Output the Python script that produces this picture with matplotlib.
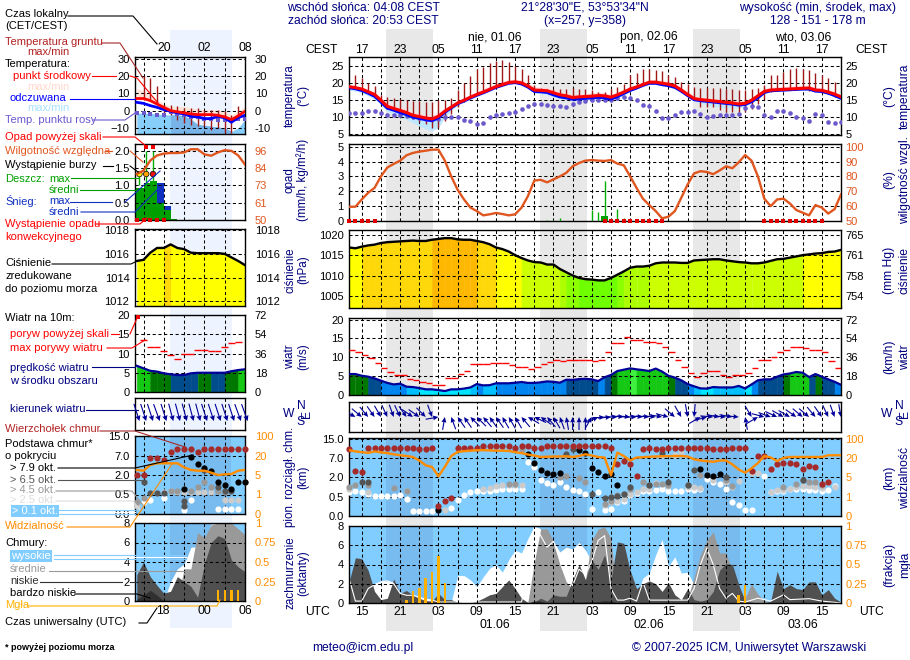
import numpy as np
import matplotlib
matplotlib.use('Agg')
import matplotlib.pyplot as plt
from matplotlib.lines import Line2D
from matplotlib.patches import Rectangle

plt.rcParams['font.family'] = ['Liberation Sans', 'DejaVu Sans']

W, H = 910, 660
NAVY = '#000080'
SKY = '#82CDFF'
RH_COL = '#E0561F'
ORANGE = '#FF8C00'
BROWN = '#A52A2A'
DEW = '#6A5ACD'
GRID = (0, (3, 2.5))

# main panel: hourly values, hours counted from 00 UTC 31.05
hours = np.arange(13, 91)
temp_mid = [19.0,18.7,18.3,17.5,16.7,15.0,13.2,12.6,12.0,11.4,
            10.6,10.2,9.8,9.5,10.3,11.8,13.0,14.2,15.0,15.9,
            16.7,17.4,18.2,19.0,19.6,20.2,20.4,20.1,19.2,18.0,
            17.9,17.8,17.2,16.6,16.3,15.8,16.0,16.1,16.2,16.4,
            16.3,15.9,16.6,17.4,18.3,18.9,19.6,20.3,20.3,20.0,
            19.7,19.2,18.0,16.7,15.5,15.2,15.0,14.8,14.6,14.4,
            14.2,13.9,14.1,15.0,16.3,17.6,18.0,18.1,18.2,18.3,
            18.4,18.5,18.6,18.0,17.9,17.4,16.8,16.0]
temp_feel = [18.7,18.4,17.9,17.1,16.2,14.5,12.7,12.1,11.4,10.8,
             10.1,9.7,9.3,9.0,9.9,11.5,12.8,14.0,14.8,15.7,
             16.5,17.2,18.0,18.8,19.4,20.0,20.2,19.8,18.9,17.6,
             17.5,17.3,16.6,16.0,15.7,15.3,15.4,15.6,15.7,15.9,
             15.7,15.4,16.1,17.0,17.9,18.6,19.4,20.0,20.0,19.6,
             19.3,18.8,17.7,16.4,15.2,14.9,14.7,14.5,14.3,14.1,
             13.9,13.6,13.8,14.6,15.8,17.3,17.8,17.9,18.0,18.1,
             18.2,18.3,18.3,17.7,17.6,17.1,16.4,15.6]
temp_low = [18.0,17.7,17.2,16.3,15.3,13.7,11.7,11.0,10.0,9.3,
            8.4,7.4,6.6,6.0,7.0,10.0,12.0,13.6,14.4,15.3,
            16.1,16.9,17.7,18.5,19.2,19.8,20.0,19.5,18.5,17.1,
            16.9,16.7,16.0,15.5,15.2,14.8,14.8,15.0,15.2,15.4,
            15.3,14.9,15.6,16.6,17.6,18.3,19.1,19.7,19.7,19.3,
            18.9,18.4,17.2,16.0,14.7,14.2,13.7,13.2,13.0,12.8,
            12.8,12.8,13.2,14.2,15.4,17.0,17.5,17.6,17.7,17.8,
            17.9,18.0,18.0,17.4,17.2,16.7,16.0,15.0]
temp_high = [19.4,19.2,18.8,18.1,17.3,15.8,14.2,13.5,12.9,12.4,
             11.6,11.2,10.7,10.5,11.5,12.5,13.7,14.9,15.8,16.7,
             17.5,18.3,19.2,19.9,20.6,21.1,21.2,20.9,20.0,18.9,
             18.9,18.7,18.1,17.5,17.2,16.8,16.9,17.0,17.1,17.4,
             17.2,16.7,17.4,18.2,19.1,19.7,20.4,21.0,21.1,20.8,
             20.5,20.0,18.8,17.5,16.3,16.0,15.8,15.6,15.4,15.2,
             15.0,14.8,15.0,15.8,17.1,18.5,18.9,19.0,19.1,19.2,
             19.3,19.4,19.4,18.8,18.6,18.2,17.5,16.5]
temp_dew = [11.3,11.3,11.3,11.8,11.8,11.3,10.8,10.8,10.6,10.3,
            10.1,9.8,9.6,9.4,9.6,10.1,10.1,10.1,9.3,8.9,
            7.9,8.4,10.1,10.8,11.0,11.2,11.5,12.3,13.2,13.9,
            14.0,13.6,13.3,13.2,13.1,13.8,14.5,14.8,15.2,15.2,
            15.2,15.2,15.7,16.0,15.7,15.0,13.6,13.4,11.8,9.9,
            9.9,10.6,11.5,11.6,11.9,11.1,10.1,10.4,10.6,10.6,
            10.6,11.1,12.8,13.2,13.1,10.6,10.1,11.8,11.9,11.4,
            10.1,9.9,8.9,11.1,10.6,8.6,8.3,8.6]
ground_hours = np.arange(14, 90)
ground_max = [22.4,21.4,20.1,19.1,16.5,16.0,15.7,15.3,15.2,14.8,
              14.7,14.5,14.5,15.0,15.0,15.8,17.9,20.1,22.1,24.3,
              24.8,25.8,26.6,26.8,26.1,25.1,24.1,22.4,19.4,18.7,
              18.4,18.4,18.4,18.4,18.7,18.4,18.4,17.9,17.4,17.4,
              18.4,18.9,19.7,22.4,22.9,24.3,24.3,24.0,23.6,22.4,
              21.7,20.4,19.9,18.9,18.7,18.7,18.7,18.7,18.4,18.2,
              18.1,17.9,18.2,18.7,19.4,22.4,22.4,23.3,24.1,24.5,
              24.3,24.0,23.1,22.4,21.4,20.4]
ground_min = [18.7,18.0,17.8,16.5,14.0,12.5,12.0,11.0,10.0,9.5,
              8.5,8.0,7.0,7.0,9.0,11.0,13.0,14.5,16.0,17.2,
              17.8,18.5,19.2,20.0,20.5,20.5,19.8,18.9,17.8,17.5,
              17.4,16.8,16.2,15.8,15.5,15.6,15.8,15.9,15.8,15.7,
              15.4,16.0,17.0,18.0,18.7,19.4,20.0,20.0,19.8,19.4,
              18.9,17.7,16.5,15.2,13.0,12.9,13.0,12.0,11.5,11.5,
              11.5,11.5,12.5,14.0,15.5,17.3,17.6,17.8,18.0,18.1,
              18.2,17.8,17.6,17.2,16.7,16.0]
humidity = [59.6,59.6,64.5,69.0,72.3,80.0,86.0,88.4,90.6,94.2,
            95.8,96.7,97.3,98.0,98.0,90.6,80.0,71.0,64.5,59.0,
            56.7,53.8,54.5,55.4,54.7,53.8,54.5,59.0,66.7,77.2,
            77.7,76.0,78.0,80.0,82.4,86.8,89.0,90.6,91.0,90.6,
            90.4,91.0,88.6,87.5,80.0,72.3,65.0,60.7,56.7,51.8,
            52.9,56.7,65.6,74.6,82.0,83.5,83.0,81.5,84.0,86.8,
            85.5,89.5,94.4,90.6,80.0,65.0,60.0,64.5,65.0,61.8,
            57.4,55.6,53.8,60.7,59.0,55.0,58.0,67.9]
rain_max_hours = [44, 45, 46, 51, 52, 53, 54, 55, 56, 57, 58]
rain_max = [0.05, 0.1, 0.2, 0.75, 0.6, 2.7, 0.1, 0.8, 0.2, 0.15, 0.1]
rain_mean_hours = [53]
rain_mean = [0.35]
conv_hours = [13, 14, 15, 16, 17, 53, 54, 55, 56, 57, 58, 59, 60, 61, 62, 78, 79, 80, 81, 82, 83, 84, 85, 86, 87]
pressure = [1016.9,1016.7,1017.1,1017.4,1017.6,1018.0,1018.2,1018.3,1018.4,1018.5,
            1018.6,1018.5,1018.5,1018.8,1019.0,1019.2,1019.2,1018.9,1018.8,1018.8,
            1018.5,1018.2,1017.7,1016.9,1016.5,1015.9,1015.0,1014.3,1013.7,1013.3,
            1013.2,1012.7,1012.7,1011.6,1010.8,1010.0,1009.4,1009.1,1009.0,1008.8,
            1008.8,1009.4,1010.2,1011.0,1011.9,1012.2,1012.2,1012.4,1013.0,1013.2,
            1013.2,1013.2,1013.1,1013.1,1013.7,1013.8,1013.9,1014.0,1014.0,1013.7,
            1013.5,1013.3,1013.2,1013.0,1013.0,1013.2,1013.6,1014.0,1014.1,1014.4,
            1014.7,1015.0,1015.2,1015.4,1015.5,1015.8,1015.9,1016.3]
wind = [5.55,5.55,5.1,4.85,4.4,3.8,3.2,2.8,3.0,2.2,
        2.1,1.85,1.5,1.5,1.3,1.05,1.5,1.5,1.7,2.0,
        2.9,2.55,2.6,3.1,3.1,3.1,3.25,3.45,3.2,3.2,
        3.35,3.6,3.5,3.25,4.05,4.0,4.2,4.3,4.15,3.7,
        4.7,5.3,6.35,6.7,7.05,6.8,6.6,6.35,7.0,6.2,
        5.1,4.6,3.9,2.9,2.3,1.75,1.7,2.1,2.0,2.0,
        2.0,2.4,1.75,2.8,3.9,4.15,4.15,4.85,5.45,5.7,
        6.1,5.9,4.75,5.55,4.85,4.15,3.5,2.7]
gust = [12.0,11.45,10.5,9.7,8.6,7.05,6.1,5.2,5.2,4.15,
        3.9,3.35,3.1,2.7,2.7,4.4,4.4,5.45,6.35,8.1,
        8.1,8.1,8.45,8.45,8.45,7.85,7.3,7.3,6.8,7.3,
        8.1,8.7,9.4,8.9,9.15,9.15,9.4,9.4,8.9,9.4,
        11.4,13.65,13.9,15.4,14.7,14.45,14.1,14.1,13.9,12.8,
        11.4,9.4,7.5,5.7,4.9,5.7,6.25,6.25,5.4,4.7,
        5.4,5.4,5.7,7.05,9.15,9.4,10.2,11.5,11.8,12.6,
        12.6,12.35,11.8,11.8,11.3,8.9,7.05]
wind_dir = [-20,-30,-40,-50,-55,-60,-65,-70,-65,-55,
            -35,-35,-45,-70,10,80,110,125,125,135,
            135,130,125,125,120,120,120,130,150,155,
            145,130,120,110,100,90,90,90,60,25,
            5,5,0,-5,-5,0,-5,-5,-5,-10,
            -15,-40,-60,-80,-95,30,15,-5,-10,-5,
            -10,-5,100,-60,30,-15,-20,-25,-30,-30,
            -35,-40,-40,-50,-55,-65,-70,-80]
cloud_top_hours = [13,14,15,16,17,18,19,20,21,22,23,24,25,26,27,28,29,30,31,32,33,34,35,36,37,38,39,40,41,42,43,44,45,46,47,48,49,50,51,52,53,54,55,56,57,58,59,60,61,62,63,64,65,66,67,68,69,70,71,72,73,74,75,76,77,78,79,80,81,82,83,84,85,86,87,88]
cloud_top = [10.6,3.6,3.4,11.2,11.2,11.2,11.2,11.2,11.2,11.2,11.2,10.9,10.7,11.2,0.25,0.39,0.47,11.2,11.2,11.2,11.2,12.1,12.1,12.1,12.1,12.1,11.2,12.1,12.1,11.2,11.2,12.1,12.1,12.1,12.1,12.1,12.1,12.1,12.1,12.1,12.1,11.2,5.5,6.3,5.5,2.3,10.9,11.2,10.9,10.9,11.2,11.2,11.2,11.2,11.2,11.2,11.2,10.9,10.7,10.7,11.2,11.2,11.2,3.6,7.8,7.8,4.1,5.5,5.8,5.8,5.4,4.2,5.0,4.7,1.5,1.6]
base_79_hours = [27,41,42,43,44,45,46,49,50,51,52,53,54,55,68,69,70,71]
base_79 = [0.15,8.6,5.7,4.0,3.2,2.8,3.2,10.4,9.2,4.4,3.45,2.45,2.95,1.38,4.05,2.5,2.45,2.95]
base_65_hours = [15,16,47,48,51,53,54,55,56,57,60,62,63,66,67,72,84]
base_65 = [1.64,1.64,8.6,10.6,0.74,0.47,0.5,0.55,0.74,1.25,1.38,9.0,1.64,1.38,3.9,2.1,1.76]
base_45_hours = [13,14,16,20,22,38,39,40,46,47,48,49,50,53,54,55,56,57,59,60,61,62,63,66,68,72,73,81,83,84,85,86,87]
base_45 = [1.25,1.38,1.38,1.17,0.92,1.5,1.5,10.6,2.1,2.3,10.6,1.95,1.64,0.32,0.4,0.6,0.74,1.12,1.64,1.43,1.5,1.5,1.43,1.43,2.5,1.76,1.3,1.25,1.5,1.76,1.64,1.64,1.43]
base_25_hours = [13,16,22,28,34,35,36,37,38,39,40,53,54,55,56,57,58,59,60,61,62,63,64,65,66,67,68,70,72,73,74,76,77,79,80,81,82,83,84,85,86,87,88,89]
base_25 = [1.12,0.86,0.92,0.15,1.12,1.17,1.3,1.38,1.43,1.43,1.38,0.29,0.35,0.4,0.43,0.74,0.86,1.07,1.12,1.58,8.1,1.3,8.4,9.5,1.25,1.25,1.17,1.76,1.64,1.25,1.69,3.2,3.0,0.86,1.0,1.0,1.12,1.25,1.3,1.3,1.25,1.17,1.64,1.25]
base_01_hours = [13,14,15,16,17,18,19,20,21,22,23,24,25,26,29,30,31,32,33,34,35,36,37,38,39,40,41,42,43,44,45,46,47,48,49,50,51,52,53,54,55,56,57,58,59,60,61,62,63,64,65,66,67,68,69,70,71,72,73,74,75,76,78,79,80,81,82,83,84,85,86,87,88,89]
base_01 = [0.86,0.92,0.86,0.68,0.55,0.53,0.55,0.53,0.6,0.43,0.14,0.14,0.13,0.12,0.2,0.42,0.65,0.86,0.92,0.92,0.94,1.0,1.07,1.12,1.12,1.12,5.95,4.65,1.82,1.56,1.38,1.64,1.25,1.0,0.94,0.68,0.19,0.86,0.16,0.19,0.35,0.38,0.6,0.78,0.94,0.94,1.0,1.12,0.94,0.94,0.94,1.12,1.04,1.12,1.9,1.64,1.5,1.07,0.36,0.28,0.15,0.16,2.3,0.86,0.94,0.94,1.12,1.12,1.12,1.04,1.04,0.94,1.0,1.3]
visibility = [52,47,44,41,47,43,40,35,31,28,
              24,18,14.3,13,5.8,13,28,45,48,50,
              52,52,51,50,50,49,44,40,34,30,
              24,25,26,26,27,24,28,35,30,24,
              21.6,6.5,42,28,18,21.6,23,25,26,27,
              27,28,28,26,19,18,17.5,17,18,18,
              15,11,8.6,12,16,28,22,17.6,20,24,
              24,24,24,24,24,31,31,31]
cover_white = [0,0,0.4,1.5,2,2.2,2.3,2.2,1,0.8,
               0.7,0.6,0.5,0.3,0.1,0,0.1,2.85,2.85,2.4,
               1.7,2.7,3.6,4,3.2,4.5,5.5,5.2,6.7,8,
               7.7,5.8,6.4,5.3,5.8,5.6,6.3,5.5,4.3,6.5,
               7,6,1,0.3,0.3,0.5,2.6,3.1,5,6.6,
               3.8,4.8,3.1,3.2,1.9,1.5,1,0.5,0.3,0.3,
               0.3,0.2,0.1,0.1,0.5,0.2,0.1,0,0,0,
               0,0,0,0,0,0,0,0]
cover_mid = [0,0,0,0,0,0,0,0,0,0,
             0,0,0,0,0,0,0,0,0,0,
             0,0,0,0,0,0,0,0,0.1,4.2,
             7.7,7.7,6.4,4,2.2,1.4,4,2.4,6.5,7.7,
             7.9,6.7,0.2,0,0,0,0,0,0,0,
             0,0,0,0.5,2.6,5,6.5,7.4,5.2,5.2,
             3.3,0.8,0.5,2,0.9,0.3,0,0,0,0,
             0,0,0,0,0,0,0,0]
cover_low = [2.2,4.7,4.6,3.4,1.2,0.35,0.5,2.5,1,1.3,
             0.8,0.5,0.25,0.2,1,0.35,0.35,0.1,0.05,0.05,
             0.2,0.5,0.85,1,1.7,2.4,1.5,0.5,0.05,0.1,
             0.5,0.2,0.85,0.7,0.7,2.4,4,2.4,4.5,3.5,
             5,2.4,6.35,6.2,3.4,1.5,2,2.3,2,1.2,
             2.1,0.85,0.35,1.5,0.35,0.2,0.35,1.2,3.4,4.1,
             4,1.9,0.2,0.1,0,0,0.2,3.3,1.5,1.9,
             1.5,1.4,2.2,2.2,0.85,1.4,0.5,0.1]
cover_vlow_hours = [13,15,41,42,43,44,52,53,54,55,69,70]
cover_vlow = [0,0,0,0.2,0.2,0,0.15,0.25,0.2,0,0,0]
high_line_hours = [13,14,15,16,17,18,19,20,21,22,23,24,25,26,27,40,41,42,43,44,45,46,47,48,49,50,51,52,53,54,55,56,57,58,59,60,61,66,67,68,69,70,71,72,73,74,75,77,79,81,82,85,87,90]
high_line = [2.6,0.2,0.2,1.5,1.9,2.2,2.3,2,1,0.8,0.8,0.6,0.4,0.3,0.1,0.1,3,8,7,5.8,6.4,4.5,3,1.8,3.5,3,4.3,6.5,7,1.5,0.3,0.3,0.5,0.2,2.2,0.3,0.3,0.3,1.5,4,5.7,4,1.5,0.5,1,0.2,0.1,0.5,0.2,0.85,0.35,0.45,0.2,0]
fog_hours = [22, 23, 24, 25, 26, 27, 28, 74, 75]
fog = [0.04, 0.15, 0.19, 0.33, 0.40, 0.61, 0.26, 0.11, 0.24]

# left inset panel
left_hours = np.arange(14, 31)
left_temp = [7,7,5.8,3.8,1.9,0,-0.7,-1.3,-1.9,-2.3,-2.3,-2.3,-2.7,-3.6,-5.2,-3,-0.4]
left_feel = [4.8,4.2,2.9,1.9,0.6,-0.4,-1.3,-1.9,-3.3,-3.6,-4.6,-4.6,-3.3,-4.2,-6.7,-4,-2.7]
left_high = [13,11.2,9.2,6.3,4,2.5,2.5,2.5,1.5,1,0.6,0.6,0.6,-0.4,-2.3,-0.4,2.5]
left_low = [-1.3,-1.5,-1.5,-2,-2.3,-2.5,-2.5,-3,-5,-8,-8.5,-9,-9.5,-10,-12,-10,-5]
left_dew = [-1.3,-1.3,-1.9,-2.3,-2.7,-1,-1.7,-2.3,-3.6,-3.6,-4.6,-4.6,-5.2,-5.6,-5.2,-4.6,-4.6]
left_ground_hours = np.arange(15, 30)
left_ground_max = [20,19,14,3.5,3.5,2.5,1.5,1.5,1.5,0.6,0.6,0.6,-0.4,-2.3,2.5]
left_ground_min = [6.3,6.3,4.3,-1.3,-2.3,-5.2,-7,-8.1,-8.7,-9,-11,-10,-13,-13,-5.2]
left_rh = [80.6,82.9,89.6,93,94.2,94.6,94.6,95,97.1,97.1,93.7,92.8,95,96.5,96,93,86.9]
left_rain_hours = [13, 14, 15, 16, 17, 18, 19]
left_rain = [0.93, 0.93, 1.08, 1.12, 0.5, 0.3, 0.03]
left_snow_top = [0.93, 0.93, 1.08, 1.12, 1.08, 0.4, 0.03]
left_rain_max_hours = [14.4, 15.4, 16.4]
left_rain_max = [1.33, 2.0, 2.0]
left_pressure = [1015.4,1015.5,1016.1,1016.5,1016.5,1016.8,1016.5,1016.4,1016.1,1016.06,1016.06,1016.06,1016.06,1016.0,1015.7,1015.4,1015.05]
left_wind = [6.8,6.15,5.5,5.3,4.85,4.6,4.4,4.4,4.85,5,5,5,5,5,5.4,5.7,5.9]
left_gust_hours = [15,16,17,18,19,20,21,22,23,24,25,26,27,28,29]
left_gust = [13.5,11.6,11.6,10.6,9.6,8.7,9.8,9.8,10.8,10.8,10.6,10.6,11.6,12.6,12.9]
left_dir = [-72,-72,-72,-70,-72,-75,-75,-75,-75,-75,-72,-72,-72,-72,-72,-70,-70]
left_top_hours = left_hours
left_top = [2,2,6.3,6.3,5.9,8.6,9.6,9.6,9.6,8.6,9.6,9.6,9.6,9.6,9.6,9.6,9.6]
left_79_hours = [21,22,23,24,25,26,27,28,29,30]
left_79 = [0.9,6.7,4.8,3.7,3.1,1.5,1.23,0.9,1.5,1.5]
left_65_hours = [15,16,17,18,21,21,24,26,27,28]
left_65 = [1.5,0.64,0.64,0.64,0.33,0.2,3.3,1.1,0.8,0.75]
left_45_hours = [14,15,19,20,22,23,24,25,26,27,30]
left_45 = [0.3,0.4,0.75,0.75,0.8,1.1,1.5,1.1,0.75,0.7,1.5]
left_25_hours = [14,18,19,20,21,22,23,24,25,27,28,29]
left_25 = [0.2,0.7,0.8,0.7,0.7,0.7,0.7,0.7,0.7,0.35,0.35,0.35]
left_01_hours = [15,16,18,21,22,26,27,28,29]
left_01 = [0.3,0.35,0.4,0.1,0.35,0.12,0.12,0.12,0.12]
left_vis = [8.9,8.3,12.7,14,14,14,14,10.9,8.9,8.3,8.3,6.8,5,5.5,5.8,8.3,8.9]
left_white = [0,0,0,0,0,2,3.3,3.8,5.5,5.6,5.6,7.9,7.9,8,7.5,6.5,5.7]
left_mid = [0,0,0,0,0,0,0,3.3,3.3,7,6.5,7.8,8,8,8,7.4,6.8]
left_low_cover = [2.7,4,2.5,1.6,0.8,1,2.5,2,1.5,0.4,3.8,6,6.7,6.4,4.2,3.5,3]
left_vlow_cover = [0.2,0.6,1.1,0.6,0,0,0,0,0,0,0,0,0,0,0,0,0]
left_fog_hours = [26, 27, 28, 29]
left_fog = [0.14, 0.14, 0.14, 0.14]

top_labels = ['17', '23', '05', '11', '17', '23', '05', '11', '17', '23', '05', '11', '17']
utc_labels = ['15', '21', '03', '09', '15', '21', '03', '09', '15', '21', '03', '09', '15']
label_hours = np.arange(15, 88, 6)


def px(x, y):
    return x / W, 1 - y / H


def label(x, y, s, color='k', ha='left', size=8, rot=0, **kw):
    fx, fy = px(x, y)
    fig.text(fx, fy, s, color=color, ha=ha, va='center', fontsize=size, rotation=rot, **kw)


def wire(points, color='k', lw=0.8):
    xs = [p[0] / W for p in points]
    ys = [1 - p[1] / H for p in points]
    fig.add_artist(Line2D(xs, ys, transform=fig.transFigure, color=color, lw=lw))


def panel(x0, y0, x1, y1, xlim, ylim, yticks=None, ylabels=None, grid_x=None):
    ax = fig.add_axes([x0 / W, 1 - y1 / H, (x1 - x0) / W, (y1 - y0) / H])
    ax.patch.set_visible(False)
    ax.set_xlim(*xlim)
    ax.set_ylim(*ylim)
    ax.set_xticks(grid_x)
    ax.set_xticklabels([])
    ax.set_yticks([] if yticks is None else yticks)
    if ylabels is not None:
        ax.set_yticklabels(ylabels)
    ax.tick_params(length=0, labelsize=8, pad=4)
    ax.grid(True, color='k', lw=0.75, ls=GRID)
    ax.set_axisbelow(False)
    for s in ax.spines.values():
        s.set_linewidth(1.0)
    return ax


def right_ticks(ax, ticks, labels, color='k', pad=3):
    tw = ax.twinx()
    tw.patch.set_visible(False)
    tw.set_ylim(ax.get_ylim())
    tw.set_yticks(ticks)
    tw.set_yticklabels(labels, color=color)
    tw.tick_params(length=0, labelsize=8, pad=pad)
    for s in tw.spines.values():
        s.set_visible(False)
    return tw


def pressure_colour(p):
    for limit, col in [(1018.8, '#FFB800'), (1017.0, '#FFD80A'), (1015.0, '#FFFF00'),
                       (1012.4, '#CCFF00'), (1011.0, '#ADFF00'), (1010.0, '#8CFF00')]:
        if p >= limit:
            return col
    return '#70FF00'


def wind_colour(v):
    for limit, col in [(1.9, '#00E5FF'), (2.8, '#00BFFF'), (3.85, '#0085F0'),
                       (5.05, '#004C8C'), (5.7, '#007800'), (7.02, '#14C814')]:
        if v < limit:
            return col
    return '#40F040'


def fill_segment(ax, xs, base, tops, col):
    # small edge so neighbouring hours leave no seam
    ax.fill_between(xs, base, tops, facecolor=col, edgecolor=col, lw=0.4, zorder=1)


def km_pos(v):
    return np.interp(v, [0, 0.5, 2, 7, 15], [0, 1, 2, 3, 4])


def vis_pos(v):
    return np.interp(v, [0, 1, 5, 20, 100], [0, 1, 2, 3, 4])


def draw_cloud_bases(ax, series):
    for hs, vals, col in series:
        ax.scatter(hs, km_pos(vals), s=20, color=col, lw=0, zorder=4, clip_on=False)


fig = plt.figure(figsize=(W / 100, H / 100), dpi=100, facecolor='white')

# day/night bands behind the axes
for x0, x1 in [(386, 433), (540, 587), (693, 740)]:
    fig.add_artist(Rectangle(px(x0, 631), (x1 - x0) / W, 602 / H, transform=fig.transFigure,
                             fc='#E8E8E8', ec='none', zorder=-2))
fig.add_artist(Rectangle(px(170, 628), 62 / W, 598 / H, transform=fig.transFigure,
                         fc='#EEF4FF', ec='none', zorder=-2))

MAIN_X = (13, 90)
MAIN_GRID = np.arange(15, 90, 3)
NIGHTS = [(18.8, 26.1), (42.85, 50.2), (66.8, 74.15)]

# temperature
ax = panel(349, 57, 841, 135, MAIN_X, (4.8, 27.7), [5, 10, 15, 20, 25], None, MAIN_GRID)
ax.fill_between(hours, temp_mid, temp_high, color='#FFD8DC', lw=0, zorder=1)
ax.fill_between(hours, temp_low, temp_feel, color='#BFE8FF', lw=0, zorder=1)
ax.vlines(ground_hours, ground_min, ground_max, color='#A01818', lw=1.0, zorder=3)
ax.scatter(hours, temp_dew, s=11, color=DEW, lw=0, zorder=3.2)
ax.plot(hours, temp_feel, color='#0000FF', lw=2.2, zorder=3.4)
ax.plot(hours, temp_mid, color='#FF0000', lw=2.2, zorder=3.5)
right_ticks(ax, [5, 10, 15, 20, 25], ['5', '10', '15', '20', '25'])

# precipitation and humidity
ax = panel(349, 144, 841, 221, MAIN_X, (0, 5.18), [0, 1, 2, 3, 4, 5], None, MAIN_GRID)
ax.vlines(rain_max_hours, 0, rain_max, color='#00B000', lw=1.0, zorder=3)
ax.bar(rain_mean_hours, rain_mean, width=1.0, color='#00A000', lw=0, zorder=3)
ax.scatter(conv_hours, np.zeros(len(conv_hours)), s=6, marker='s', color='#E00000', lw=0, zorder=5, clip_on=False)
tw = right_ticks(ax, [50, 60, 70, 80, 90, 100], ['50', '60', '70', '80', '90', '100'], RH_COL)
tw.set_ylim(50, 101.8)
tw.plot(hours, humidity, color=RH_COL, lw=1.7)

# pressure
ax = panel(349, 230, 841, 308, MAIN_X, (1002, 1021.2), [1005, 1010, 1015, 1020], None, MAIN_GRID)
for i in range(len(hours) - 1):
    fill_segment(ax, hours[i:i + 2], 1002, pressure[i:i + 2], pressure_colour(pressure[i]))
ax.plot(hours, pressure, color='k', lw=1.7, zorder=3.5)
right_ticks(ax, [1005, 1010, 1015, 1020], ['754', '758', '761', '765'])

# wind
ax = panel(349, 318, 841, 395, MAIN_X, (0, 20.4), [0, 5, 10, 15, 20], None, MAIN_GRID)
for i in range(len(hours) - 1):
    fill_segment(ax, hours[i:i + 2], 0, wind[i:i + 2], wind_colour(wind[i]))
ax.plot(hours, wind, color='#000099', lw=1.6, zorder=3.5)
ax.hlines(gust, hours[:len(gust)], hours[:len(gust)] + 1, color='#FF0000', lw=1.0, zorder=3.5)
right_ticks(ax, [0, 5, 10, 15, 20], ['0', '18', '36', '54', '72'])

# wind direction
ax = panel(349, 402, 841, 432, MAIN_X, (0, 1), None, None, MAIN_GRID)
rad = np.deg2rad(wind_dir)
ax.quiver(hours, np.full(len(hours), 0.5), 13 * np.cos(rad), 13 * np.sin(rad), angles='uv', pivot='tip',
          units='dots', scale_units='dots', scale=1, width=1.1, headwidth=4.5, headlength=5, headaxislength=4.5,
          color='#000099', zorder=4)

# cloud base / visibility
CLOUD_TICKS = [0, 1, 2, 3, 4]
ax = panel(349, 438, 841, 516, MAIN_X, (0, 4.03), CLOUD_TICKS, ['0.0', '0.5', '2.0', '7.0', '15.0'], MAIN_GRID)
ax.axhspan(0, 4.03, color=SKY, lw=0, zorder=0)
for n0, n1 in NIGHTS:
    ax.axvspan(n0, n1, color='#78BBEE', lw=0, zorder=0.5)
draw_cloud_bases(ax, [(base_01_hours, base_01, 'white'), (base_25_hours, base_25, '#CCCCCC'),
                      (base_45_hours, base_45, '#999999'), (base_65_hours, base_65, '#555555'),
                      (base_79_hours, base_79, 'black'), (cloud_top_hours, cloud_top, BROWN)])
ax.plot(hours, vis_pos(visibility), color=ORANGE, lw=1.7, zorder=5)
right_ticks(ax, CLOUD_TICKS, ['0', '1', '5', '20', '100'], ORANGE)

# cloud cover and fog
ax = panel(349, 526, 841, 603, MAIN_X, (0, 8), [0, 2, 4, 6, 8], None, MAIN_GRID)
ax.axhspan(0, 8, color=SKY, lw=0, zorder=0)
for n0, n1 in NIGHTS:
    ax.axvspan(n0, n1, color='#78BBEE', lw=0, zorder=0.5)
ax.fill_between(hours, 0, cover_white, color='white', lw=0, zorder=1)
ax.fill_between(hours, 0, cover_mid, color='#999999', lw=0, zorder=1.2)
ax.fill_between(hours, 0, cover_low, color='#505050', lw=0, zorder=1.4)
ax.fill_between(cover_vlow_hours, 0, cover_vlow, color='#303030', lw=0, zorder=1.6)
ax.plot(high_line_hours, high_line, color='white', lw=0.8, zorder=1.8)
ax.bar(fog_hours, np.array(fog) * 8, width=0.4, color='#FFB000', lw=0, zorder=3.5)
right_ticks(ax, [0, 2, 4, 6, 8], ['0', '0.25', '0.5', '0.75', '1'], ORANGE)

# left inset
LEFT_X = (13.74, 30)
LEFT_GRID = [15, 18, 21, 24, 27]
LEFT_NIGHT = (18.85, 28)
LEFT_PAD = 7

ax = panel(135, 57, 245, 134, LEFT_X, (-13.5, 31), [-10, 0, 10, 20, 30], None, LEFT_GRID)
ax.fill_between(left_hours, left_temp, left_high, color='#FFE4D8', lw=0, zorder=1)
ax.fill_between(left_hours, -13.5, left_low, color='#87CEFA', lw=0, zorder=1)
mask = (left_hours >= 19) & (left_hours <= 28)
ax.fill_between(left_hours[mask], -13.5, np.array(left_low)[mask], color='#78B4E8', lw=0, zorder=1.1)
ax.vlines(left_ground_hours, left_ground_min, left_ground_max, color='#A01818', lw=1.0, zorder=3)
ax.scatter(left_hours, left_dew, s=11, marker='s', color=DEW, lw=0, zorder=3.2)
ax.plot(left_hours, left_feel, color='#0000FF', lw=2.0, zorder=3.4)
ax.plot(left_hours, left_temp, color='#FF0000', lw=2.0, zorder=3.5)
right_ticks(ax, [-10, 0, 10, 20, 30], ['-10', '0', '10', '20', '30'], pad=LEFT_PAD)

ax = panel(135, 144, 245, 220, LEFT_X, (0, 2.2), [0, 0.5, 1, 1.5, 2], ['0.0', '0.5', '1.0', '1.5', '2.0'], LEFT_GRID)
ax.bar(left_rain_hours, left_snow_top, width=1.0, align='edge', color='#1030C0', lw=0, zorder=1)
ax.bar(left_rain_hours, left_rain, width=1.0, align='edge', color='#00A000', lw=0, zorder=1.2)
ax.vlines(left_rain_max_hours, 1.0, left_rain_max, color='#00B000', lw=1.0, zorder=3)
ax.scatter(left_rain_max_hours, [1.33, 1.33, 1.33], s=16, c=['#FFEE00', '#FFA500', '#EE1111'],
           edgecolors='k', lw=0.5, zorder=5)
ax.scatter(left_rain_max_hours[1:], [2.1, 2.1], s=9, marker='s', color='#EE0000', lw=0, zorder=5, clip_on=False)
ax.scatter([14, 15, 16, 17, 18], np.zeros(5), s=6, marker='s', color='#E00000', lw=0, zorder=5, clip_on=False)
tw = right_ticks(ax, [50, 61.5, 73, 84.5, 96], ['50', '61', '73', '84', '96'], RH_COL, LEFT_PAD)
tw.set_ylim(50, 100.6)
tw.plot(left_hours, left_rh, color=RH_COL, lw=1.7)

ax = panel(135, 229, 245, 306, LEFT_X, (1011.6, 1018.1), [1012, 1014, 1016, 1018], None, LEFT_GRID)
ax.fill_between(left_hours, 1011.6, left_pressure, color='#FFFF00', lw=0, zorder=1)
ax.fill_between(left_hours[4:6], 1011.6, left_pressure[4:6], color='#FFD80A', lw=0, zorder=1.1)
ax.plot(left_hours, left_pressure, color='k', lw=1.7, zorder=3.5)
right_ticks(ax, [1012, 1014, 1016, 1018], ['1012', '1014', '1016', '1018'], pad=LEFT_PAD)

ax = panel(135, 315, 245, 392, LEFT_X, (0, 20), [0, 5, 10, 15, 20], None, LEFT_GRID)
left_wind_cols = ['#14C814', '#14C814', '#007800', '#007800', '#007800', '#004C8C', '#004C8C', '#004C8C',
                  '#004C8C', '#007800', '#007800', '#004C8C', '#004C8C', '#007800', '#007800', '#14C814']
for i in range(len(left_hours) - 1):
    fill_segment(ax, left_hours[i:i + 2], 0, left_wind[i:i + 2], left_wind_cols[i])
ax.plot(left_hours, left_wind, color='#000099', lw=1.6, zorder=3.5)
ax.hlines(left_gust, np.array(left_gust_hours) - 0.5, np.array(left_gust_hours) + 0.5, color='#FF0000', lw=1.0, zorder=3.5)
ax.scatter([14.2], [19.6], s=8, marker='s', color='#EE0000', lw=0, zorder=5)
right_ticks(ax, [0, 5, 10, 15, 20], ['0', '18', '36', '54', '72'], pad=LEFT_PAD)

ax = panel(135, 398, 245, 430, LEFT_X, (0, 1), None, None, LEFT_GRID)
rad = np.deg2rad(left_dir)
ax.quiver(left_hours + 0.4, np.full(len(left_hours), 0.28), 18 * np.cos(rad), 18 * np.sin(rad), angles='uv', pivot='tip',
          units='dots', scale_units='dots', scale=1, width=1.1, headwidth=5, headlength=5, headaxislength=4.5,
          color='#000099', zorder=4, clip_on=False)

ax = panel(135, 436, 245, 514, LEFT_X, (0, 4), CLOUD_TICKS, ['0.0', '0.5', '2.0', '7.0', '15.0'], LEFT_GRID)
ax.axhspan(0, 4, color=SKY, lw=0, zorder=0)
ax.axvspan(*LEFT_NIGHT, color='#78BBEE', lw=0, zorder=0.5)
draw_cloud_bases(ax, [(left_01_hours, left_01, 'white'), (left_25_hours, left_25, '#CCCCCC'),
                      (left_45_hours, left_45, '#999999'), (left_65_hours, left_65, '#555555'),
                      (left_79_hours, left_79, 'black'), (left_top_hours, left_top, BROWN)])
ax.plot(left_hours, vis_pos(left_vis), color=ORANGE, lw=1.7, zorder=5)
right_ticks(ax, CLOUD_TICKS, ['0', '1', '5', '20', '100'], ORANGE, LEFT_PAD)

ax = panel(135, 523, 245, 601, LEFT_X, (0, 8), [0, 2, 4, 6, 8], None, LEFT_GRID)
ax.axhspan(0, 8, color=SKY, lw=0, zorder=0)
ax.axvspan(*LEFT_NIGHT, color='#78BBEE', lw=0, zorder=0.5)
ax.fill_between(left_hours, 0, left_white, color='white', lw=0, zorder=1)
ax.fill_between(left_hours, 0, left_mid, color='#999999', lw=0, zorder=1.2)
ax.fill_between(left_hours, 0, left_low_cover, color='#505050', lw=0, zorder=1.4)
ax.fill_between(left_hours, 0, left_vlow_cover, color='#303030', lw=0, zorder=1.6)
ax.bar(left_fog_hours, np.array(left_fog) * 8, width=0.35, color='#FFB000', lw=0, zorder=3.5)
right_ticks(ax, [0, 2, 4, 6, 8], ['0', '0.25', '0.5', '0.75', '1'], ORANGE, LEFT_PAD)

# header
label(363, 8, 'wschód słońca: 04:08 CEST', NAVY, 'center', 8.7)
label(363, 21, 'zachód słońca: 20:53 CEST', NAVY, 'center', 8.7)
label(585, 8, '21°28\'30"E, 53°53\'34"N', NAVY, 'center', 8.7)
label(585, 21, '(x=257, y=358)', NAVY, 'center', 8.7)
label(818, 8, 'wysokość (min, środek, max)', NAVY, 'center', 8.7)
label(818, 21, '128 - 151 - 178 m', NAVY, 'center', 8.7)
for x, s in [(495, 'nie, 01.06'), (649, 'pon, 02.06'), (803, 'wto, 03.06')]:
    label(x, 37, s, 'k', 'center', 8.7)
label(322, 50, 'CEST', 'k', 'center', 8.7)
label(872, 50, 'CEST', 'k', 'center', 8.7)
for h, top, utc in zip(label_hours, top_labels, utc_labels):
    x = 349 + (h - 13) * 6.39
    label(x, 50, top, 'k', 'center', 8.7)
    label(x, 612, utc, 'k', 'center', 8.7)
label(318, 612, 'UTC', 'k', 'center', 8.7)
label(872, 612, 'UTC', 'k', 'center', 8.7)
for x, s in [(495, '01.06'), (649, '02.06'), (803, '03.06')]:
    label(x, 625, s, 'k', 'center', 8.7)
label(363, 648, 'meteo@icm.edu.pl', NAVY, 'center', 8.7)
label(749, 648, '© 2007-2025 ICM, Uniwersytet Warszawski', NAVY, 'center', 8.7)

# rotated axis names
for y, outer, inner in [(96, 'temperatura', '(°C)'), (180, 'opad', '(mm/h, kg/m²/h)'), (270, 'ciśnienie', '(hPa)'),
                        (357, 'wiatr', '(m/s)'), (477, 'pion. rozciągł. chm.', '(km)'), (573, 'zachmurzenie', '(oktanty)')]:
    label(290, y, outer, NAVY, 'center', 8.4, 90)
    label(303, y, inner, NAVY, 'center', 8.4, 90)
for y, inner, outer in [(96, '(°C)', 'temperatura'), (180, '(%)', 'wilgotność wzgl.'), (270, '(mm Hg)', 'ciśnienie'),
                        (357, '(km/h)', 'wiatr'), (478, '(km)', 'widzialność'), (565, '(frakcja)', 'mgła')]:
    label(889, y, inner, NAVY, 'center', 8.7, 90)
    label(905, y, outer, NAVY, 'center', 8.7, 90)

# wind compass on both sides
for cx in (299, 897):
    label(cx - 10, 414, 'W', NAVY, 'center', 8.7)
    label(cx + 2, 406, 'N', NAVY, 'center', 8.7)
    label(cx + 1, 422, 'S', NAVY, 'center', 8.7)
    label(cx + 8, 414, 'E', NAVY, 'center', 8.7, 90)

# left legend with its connector wires
label(164, 48, '20', 'k', 'center', 8.7)
label(204, 48, '02', 'k', 'center', 8.7)
label(245, 48, '08', 'k', 'center', 8.7)
label(163, 611, '18', 'k', 'center', 8.7)
label(204, 611, '00', 'k', 'center', 8.7)
label(245, 611, '06', 'k', 'center', 8.7)

label(5, 14, 'Czas lokalny')
label(5, 26, '(CET/CEST)')
wire([(68, 16), (133, 16), (157, 44)])
label(5, 42, 'Temperatura gruntu', '#B22222')
label(27, 52, 'max/min', '#B22222')
wire([(102, 43), (120, 43), (143, 78)], BROWN)
label(5, 64, 'Temperatura:')
label(13, 76, 'punkt środkowy', '#FF0000')
wire([(92, 76), (116, 76)], '#FF0000')
wire([(130, 76), (137, 78), (158, 103)], '#FF0000')
label(27, 87, 'max/min', '#FFD8CC')
label(10, 98, 'odczuwana', '#0000FF')
wire([(70, 99), (135, 99)], '#0000FF')
label(27, 108, 'max/min', '#A8E0FF')
label(5, 120, 'Temp. punktu rosy', DEW)
wire([(93, 120), (125, 120), (135, 113)], DEW)
label(5, 137, 'Opad powyżej skali', '#FF0000')
wire([(103, 137), (135, 137), (146, 146)], '#FF0000')
label(5, 151, 'Wilgotność względna', RH_COL)
wire([(105, 151), (112, 151)], RH_COL)
wire([(130, 151), (143, 162)], RH_COL)
label(5, 165, 'Wystąpienie burzy')
wire([(103, 166), (113, 166)])
wire([(130, 166), (138, 172)])
label(5, 179, 'Deszcz:', '#00A000')
label(49, 179, 'max', '#00A000')
wire([(71, 178), (139, 178)], '#00A000')
label(49, 190, 'średni', '#00A000')
wire([(80, 190), (135, 190)], '#00A000')
label(5, 201, 'Śnieg:', '#1030C0')
label(49, 201, 'max', '#1030C0')
wire([(70, 202), (112, 202)], '#1030C0')
wire([(125, 202), (160, 171)], '#1030C0')
label(49, 212, 'średni', '#1030C0')
wire([(81, 212), (135, 212), (160, 187)], '#1030C0')
label(5, 224, 'Wystąpienie opadu', '#FF0000')
label(5, 237, 'konwekcyjnego', '#FF0000')
wire([(96, 224), (140, 224), (147, 218)], '#FF0000')
label(5, 263, 'Ciśnienie')
wire([(52, 264), (131, 264), (135, 262)])
label(5, 276, 'zredukowane')
label(5, 289, 'do poziomu morza')
label(5, 318, 'Wiatr na 10m:')
label(10, 334, 'poryw powyżej skali', '#FF0000')
wire([(111, 334), (119, 334)], '#FF0000')
wire([(130, 334), (138, 316)], '#FF0000')
label(10, 348, 'max porywy wiatru', '#FF0000')
wire([(107, 348), (132, 348), (145, 340)], '#FF0000')
label(10, 368, 'prędkość wiatru', NAVY)
wire([(92, 367), (135, 367)], NAVY)
label(10, 381, 'w środku obszaru', NAVY)
label(10, 409, 'kierunek wiatru', NAVY)
wire([(86, 410), (138, 410)], NAVY)
label(5, 429, 'Wierzchołek chmur', '#B22222')
wire([(100, 431), (135, 431), (185, 447)], BROWN)
label(5, 444, 'Podstawa chmur*')
label(5, 456, 'o pokryciu')
label(10, 468, '> 7.9 okt.')
wire([(58, 468), (135, 468), (193, 455)])
label(10, 480, '> 6.5 okt.', '#555555')
wire([(58, 480), (143, 480)], '#555555')
label(10, 490, '> 4.5 okt.', '#999999')
wire([(56, 491), (132, 491), (143, 505)], '#999999')
label(10, 500, '> 2.5 okt.', '#DDDDDD')
wire([(56, 501), (133, 501), (140, 510)], '#DDDDDD')
label(12, 511, '> 0.1 okt.', 'white', bbox=dict(fc=SKY, ec='none', pad=1))
wire([(56, 510), (135, 510)], SKY)
wire([(56, 512), (135, 512)], '#FFFFFF')
wire([(56, 514), (135, 514)], SKY)
label(5, 526, 'Widzialność', ORANGE)
wire([(67, 527), (130, 527), (172, 464)], ORANGE)
label(5, 543, 'Chmury:')
label(11, 556, 'wysokie', 'white', bbox=dict(fc=SKY, ec='none', pad=1))
wire([(54, 555), (186, 555)], SKY)
wire([(54, 557), (186, 557)], '#FFFFFF')
wire([(54, 559), (186, 559)], SKY)
label(10, 569, 'średnie', '#999999')
wire([(49, 571), (193, 571)], '#999999')
label(10, 581, 'niskie', '#303030')
wire([(40, 582), (122, 582)], '#303030')
wire([(130, 582), (137, 582)], '#303030')
label(10, 593, 'bardzo niskie')
wire([(75, 594), (137, 594), (150, 598)])
label(5, 605, 'Mgła', '#FFB000')
wire([(28, 606), (217, 606), (220, 600)], '#FFB000')
label(5, 622, 'Czas uniwersalny (UTC)')
wire([(139, 623), (147, 623), (157, 608)])
label(5, 648, '* powyżej poziomu morza', size=6.5, fontweight='bold')

fig.savefig('out.png', dpi=100)
